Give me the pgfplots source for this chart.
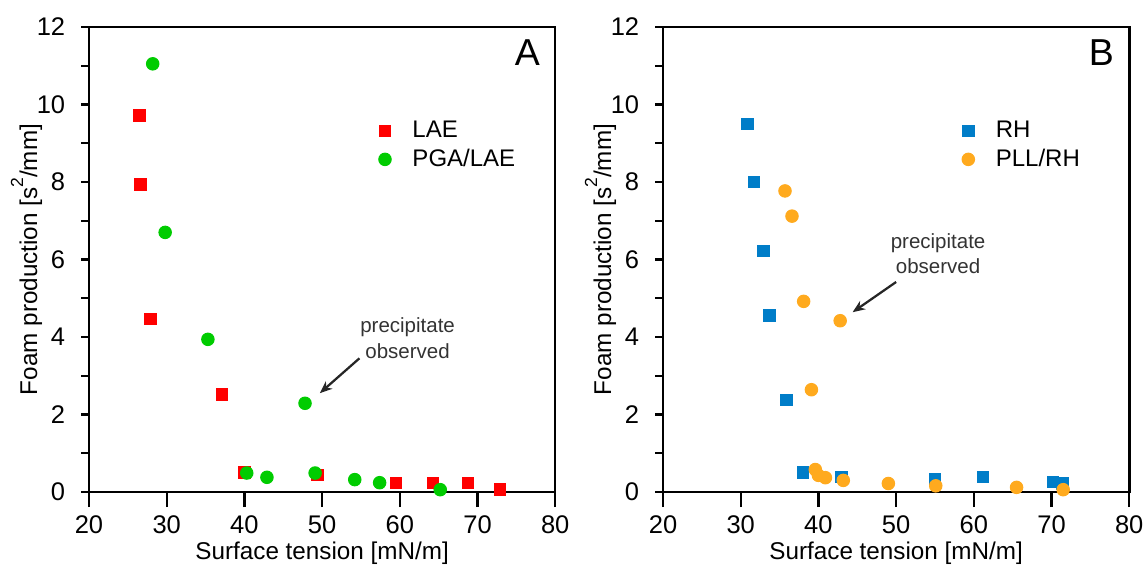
\documentclass[border=0pt]{standalone}
\usepackage{fontspec}
\setmainfont{Liberation Sans}
\usepackage{pgfplots}
\pgfplotsset{compat=1.18}
\usetikzlibrary{arrows.meta}

\definecolor{laered}{RGB}{255,0,0}
\definecolor{pgagreen}{RGB}{0,204,0}
\definecolor{rhblue}{RGB}{0,125,200}
\definecolor{pllorange}{RGB}{255,170,30}

\tikzset{note/.style={font=\fontsize{8.2}{10.2}\selectfont, text=black!80, align=center}}

\pgfplotsset{
  panel/.style={
    scale only axis,
    width=186.5pt, height=186pt,
    xmin=20, xmax=80, ymin=0, ymax=12,
    xtick={20,30,...,80},
    ytick={0,2,...,12},
    minor ytick={0,1,...,12},
    axis line style={line width=1pt},
    every tick/.style={black, line width=0.9pt},
    major y tick style={draw=none},
    minor y tick style={draw=black, line width=0.9pt},
    tick align=outside,
    xtick pos=bottom, ytick pos=left,
    major tick length=6pt, minor tick length=3.2pt,
    tick label style={font=\fontsize{10.2}{12}\selectfont},
    label style={font=\fontsize{9.7}{12}\selectfont},
    /pgf/number format/assume math mode=true,
    xlabel={Surface tension [mN/m]},
    ylabel={Foam production [s\raisebox{1.1ex}{\fontsize{7}{8}\selectfont 2}/mm]},
    xlabel style={yshift=3.5pt},
    ylabel style={yshift=-9pt},
    legend cell align=left,
    legend style={draw=none, fill=none, font=\fontsize{9.6}{10}\selectfont,
      row sep=-1pt, inner sep=1pt,
      /tikz/every odd column/.append style={column sep=6.5pt}},
    clip=false,
  },
  sq/.style={only marks, mark=square*, mark size=2.3pt},
  ci/.style={only marks, mark=*, mark size=2.5pt},
}

\begin{document}
\begin{tikzpicture}
\useasboundingbox (-35.6pt,-32pt) rectangle (421.6pt,196.8pt);

% panel A
\begin{axis}[panel, at={(0,0)}, anchor=origin,
    legend style={at={(rel axis cs:0.615,0.815)}, anchor=north west}]
\addplot[sq, color=laered, mark options={fill=laered, draw=laered}] coordinates {
  (26.5,9.72) (26.6,7.93) (27.9,4.47) (37.1,2.52) (40.0,0.50) (49.4,0.44)
  (59.5,0.23) (64.3,0.23) (68.8,0.23) (72.9,0.06)};
\addlegendentry{LAE}
\addplot[ci, color=pgagreen, mark options={fill=pgagreen, draw=pgagreen}] coordinates {
  (28.2,11.05) (29.8,6.70) (35.3,3.94) (47.8,2.29) (40.3,0.49) (42.9,0.38)
  (49.1,0.49) (54.2,0.32) (57.4,0.24) (65.2,0.06)};
\addlegendentry{PGA/LAE}
\node[note] at (axis cs:61.0,3.97) {precipitate\\observed};
\draw[-{Stealth[length=5pt,width=4pt]}, line width=0.9pt, black!85]
  (axis cs:54.8,3.45) -- (axis cs:49.7,2.55);
\node[font=\fontsize{15}{18}\selectfont] at (rel axis cs:0.94,0.945) {A};
\end{axis}

% panel B
\begin{axis}[panel, at={(229.6pt,0)}, anchor=origin,
    legend style={at={(rel axis cs:0.635,0.815)}, anchor=north west}]
\addplot[sq, color=rhblue, mark options={fill=rhblue, draw=rhblue}] coordinates {
  (30.9,9.50) (31.7,8.00) (32.9,6.22) (33.7,4.56) (35.9,2.38) (38.0,0.50)
  (43.0,0.39) (55.0,0.33) (61.2,0.39) (70.2,0.26) (71.4,0.22)};
\addlegendentry{RH}
\addplot[ci, color=pllorange, mark options={fill=pllorange, draw=pllorange}] coordinates {
  (35.7,7.77) (36.6,7.12) (38.1,4.92) (42.8,4.42) (39.1,2.64) (39.6,0.58)
  (40.0,0.43) (40.9,0.37) (43.2,0.30) (49.0,0.22) (55.1,0.16) (65.5,0.12)
  (71.5,0.06)};
\addlegendentry{PLL/RH}
\node[note] at (axis cs:55.4,6.15) {precipitate\\observed};
\draw[-{Stealth[length=5pt,width=4pt]}, line width=0.9pt, black!85]
  (axis cs:50.0,5.42) -- (axis cs:44.4,4.64);
\node[font=\fontsize{15}{18}\selectfont] at (rel axis cs:0.94,0.945) {B};
\end{axis}
\end{tikzpicture}
\end{document}
